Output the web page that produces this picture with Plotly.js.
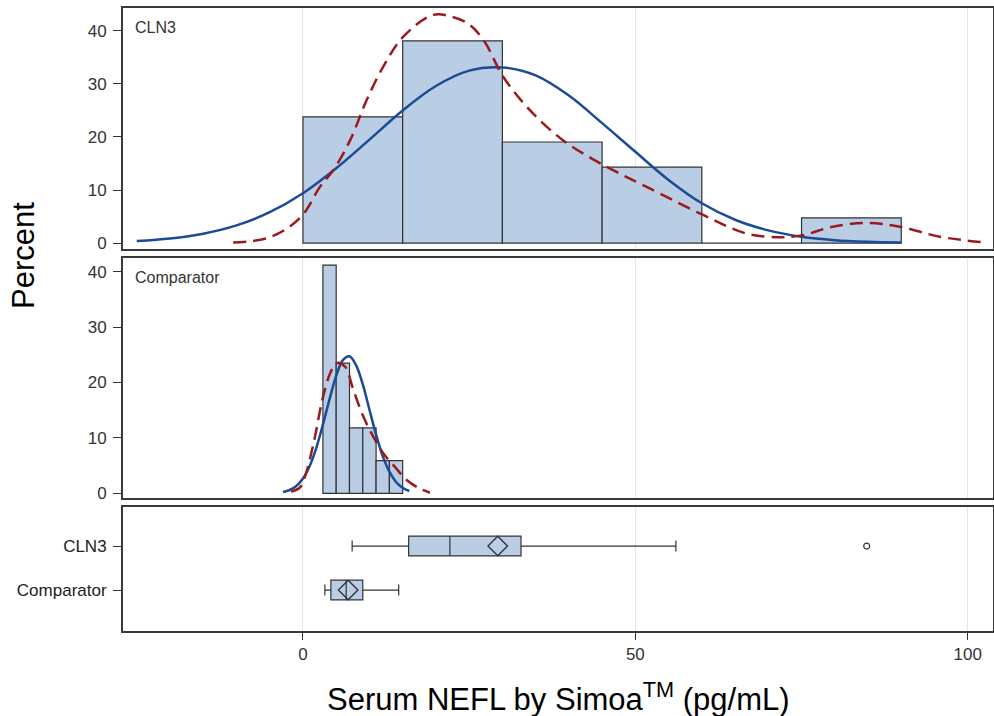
<!DOCTYPE html>
<html>
<head>
<meta charset="utf-8">
<script src="https://cdn.plot.ly/plotly-3.0.1.min.js"></script>
<style>html,body{margin:0;padding:0;background:#fff;}#chart{width:994px;height:716px;}</style>
</head>
<body>
<div id="chart"></div>
<script>
// ---- Data ----
// CLN3 histogram (bin width 15)
var cln3BinCenters = [7.5, 22.5, 37.5, 52.5, 67.5, 82.5];
var cln3Percent    = [23.8, 38.1, 19.05, 14.3, 0, 4.76];
// Comparator histogram (bin width 2)
var compBinCenters = [4, 6, 8, 10, 12, 14];
var compPercent    = [41.2, 23.5, 11.8, 11.8, 5.9, 5.9];

// CLN3 normal curve
var cln3NormX = [-25,-20,-15,-10,-5,0,5,10,15,20,25,30,35,40,45,50,55,60,65,70,75,80,85,90];
var cln3NormY = [0.39,0.87,1.77,3.33,5.82,9.4,14.1,19.5,25.0,29.6,32.5,33.1,31.6,27.8,22.6,17.2,11.9,7.5,4.4,2.4,1.2,0.56,0.25,0.1];
// CLN3 kernel density
var cln3KernX = [-10.5,-5.5,-2,0.15,2.55,4.6,7.1,9.6,12.1,15.1,19.6,22.5,25,27.3,30.1,34.1,39.1,45.2,51.7,60.2,66.7,71.7,75.2,79.7,84.8,89.8,95.8,102.8];
var cln3KernY = [0.1,0.9,3.1,5.6,10.6,13.8,19.4,27,33.3,38.9,43,42.6,41.2,38,31.4,25.1,19.4,14.7,10.6,5.3,1.8,1.1,1.5,3.1,3.8,3.1,1.2,0.1];

// Comparator normal curve
var compNormX = [-3,-2,-1,0,1,2,3,4,5,6,7,8,9,10,11,12,13,14,15,16];
var compNormY = [0.24,0.59,1.32,2.67,4.9,8.17,12.4,17.0,21.2,24.05,24.75,23.1,19.65,15.1,10.6,6.7,3.9,2.04,0.97,0.42];
// Comparator kernel density
var compKernX = [-1.8,-0.5,0.3,1.7,2.9,4.1,5.0,6.3,7.6,9.1,10.6,12.1,13.8,15.6,17.5,19.1];
var compKernY = [0.3,1.0,3.0,9.6,16.8,21.7,23.5,22.9,18.6,13.8,10.2,7.2,4.8,2.4,0.9,0.1];

// Box plot statistics
var boxGroups = ['CLN3', 'Comparator'];
var boxLowerFence = [7.4, 3.3];
var boxQ1 = [15.9, 4.2];
var boxMedian = [22.1, 6.5];
var boxQ3 = [32.8, 9.0];
var boxUpperFence = [56.1, 14.4];
var boxMean = [29.3, 6.8];
var outlierX = [84.8];
var outlierGroup = ['CLN3'];

// Tick labels
var xTickVals = [0, 50, 100];
var xTickText = ['0', '50', '100'];
var yTickVals = [0, 10, 20, 30, 40];

// ---- Styles ----
var barFill = '#b9cde5';
var edge = '#333333';
var blue = '#1b4a96';
var red = '#9a1b1e';
var fontFam = 'Liberation Sans, Arial, sans-serif';

var traces = [
  {type:'bar', x:cln3BinCenters, y:cln3Percent, width:15, xaxis:'x3', yaxis:'y3',
   marker:{color:barFill, line:{color:edge, width:1.2}}},
  {type:'scatter', mode:'lines', x:cln3NormX, y:cln3NormY, xaxis:'x3', yaxis:'y3',
   line:{color:blue, width:2.5, shape:'spline'}},
  {type:'scatter', mode:'lines', x:cln3KernX, y:cln3KernY, xaxis:'x3', yaxis:'y3',
   line:{color:red, width:2.5, shape:'spline', dash:'13px,7px'}},

  {type:'bar', x:compBinCenters, y:compPercent, width:2, xaxis:'x2', yaxis:'y2',
   marker:{color:barFill, line:{color:edge, width:1.2}}},
  {type:'scatter', mode:'lines', x:compNormX, y:compNormY, xaxis:'x2', yaxis:'y2',
   line:{color:blue, width:2.5, shape:'spline'}},
  {type:'scatter', mode:'lines', x:compKernX, y:compKernY, xaxis:'x2', yaxis:'y2',
   line:{color:red, width:2.5, shape:'spline', dash:'13px,7px'}},

  {type:'box', orientation:'h', y:boxGroups, q1:boxQ1, median:boxMedian, q3:boxQ3,
   lowerfence:boxLowerFence, upperfence:boxUpperFence, xaxis:'x', yaxis:'y',
   width:0.45, whiskerwidth:0.55, fillcolor:barFill, line:{color:edge, width:1.2},
   boxpoints:false},
  {type:'scatter', mode:'markers', x:boxMean, y:boxGroups, xaxis:'x', yaxis:'y',
   marker:{symbol:'diamond-open', size:15, color:edge, line:{width:1.4, color:edge}}},
  {type:'scatter', mode:'markers', x:outlierX, y:outlierGroup, xaxis:'x', yaxis:'y',
   marker:{symbol:'circle-open', size:6, color:edge, line:{width:1.2, color:edge}}}
];

var xRange = [-27.07, 103.8];
function xax(extra){
  var a = {range:xRange, showline:true, mirror:true, linecolor:'#3a3a3a', linewidth:2,
    showgrid:true, gridcolor:'#e6e6e6', gridwidth:1, tickvals:xTickVals, ticktext:xTickText,
    zeroline:false, fixedrange:true};
  for (var k in extra) a[k] = extra[k];
  return a;
}
function yax(extra){
  var a = {showline:true, mirror:true, linecolor:'#3a3a3a', linewidth:2, showgrid:false,
    zeroline:false, ticks:'outside', ticklen:8, tickwidth:1, tickcolor:'#333',
    ticklabelstandoff:3,
    tickfont:{family:fontFam, size:17, color:'#333'}};
  for (var k in extra) a[k] = extra[k];
  return a;
}

var layout = {
  width:994, height:716,
  margin:{l:123, r:1, t:8, b:85},
  paper_bgcolor:'#fff', plot_bgcolor:'#fff',
  showlegend:false,
  font:{family:fontFam, color:'#333'},
  xaxis: xax({anchor:'y', ticks:'outside', ticklen:7, tickcolor:'#333',
    tickfont:{family:fontFam, size:17, color:'#333'}}),
  xaxis2: xax({anchor:'y2', matches:'x', showticklabels:false, ticks:''}),
  xaxis3: xax({anchor:'y3', matches:'x', showticklabels:false, ticks:''}),
  yaxis: yax({domain:[0, 0.199], anchor:'x', type:'category', categoryarray:boxGroups,
    range:[1.93, -0.886], tickfont:{family:fontFam, size:17, color:'#222'}}),
  yaxis2: yax({domain:[0.2135, 0.598], anchor:'x2', range:[-0.85, 42.4], tickvals:yTickVals}),
  yaxis3: yax({domain:[0.613, 1], anchor:'x3', range:[-1.13, 44.3], tickvals:yTickVals}),
  annotations:[
    {text:'Serum NEFL by Simoa<sup>TM</sup> (pg/mL)', xref:'paper', yref:'paper', x:0.5, y:-0.106,
     xanchor:'center', yanchor:'middle', showarrow:false,
     font:{family:fontFam, size:31, color:'#000'}},
    {text:'Percent', xref:'paper', yref:'paper', x:-0.115, y:0.6035, xanchor:'center', yanchor:'middle',
     textangle:-90, showarrow:false, font:{family:fontFam, size:31, color:'#000'}},
    {text:'CLN3', xref:'paper', yref:'paper', x:0.012, y:0.985, xanchor:'left', yanchor:'top',
     showarrow:false, font:{family:fontFam, size:16, color:'#333'}},
    {text:'Comparator', xref:'paper', yref:'paper', x:0.012, y:0.584, xanchor:'left', yanchor:'top',
     showarrow:false, font:{family:fontFam, size:16, color:'#333'}}
  ]
};

Plotly.newPlot('chart', traces, layout, {staticPlot:true, displayModeBar:false});
</script>
</body>
</html>
